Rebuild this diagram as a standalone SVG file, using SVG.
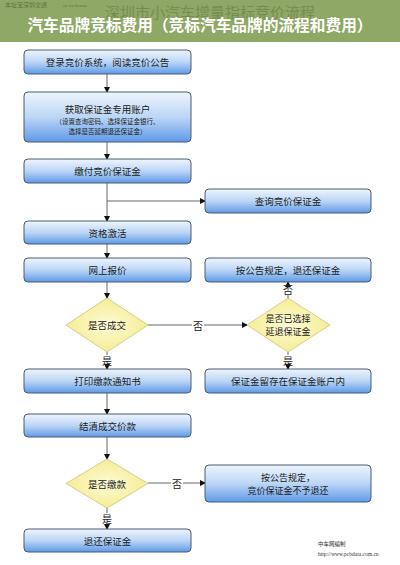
<svg xmlns="http://www.w3.org/2000/svg" width="400" height="565" viewBox="0 0 400 565">
<defs>
<linearGradient id="boxg" x1="0" y1="0" x2="0" y2="1">
<stop offset="0" stop-color="#eef5fd"/>
<stop offset="0.5" stop-color="#bcd6f6"/>
<stop offset="1" stop-color="#5e9ae8"/>
</linearGradient>
<radialGradient id="diag" cx="0.5" cy="0.5" r="0.6">
<stop offset="0" stop-color="#fdfbd8"/>
<stop offset="1" stop-color="#f3ea86"/>
</radialGradient>
<marker id="arr" markerWidth="6" markerHeight="6" refX="5" refY="3" orient="auto" markerUnits="userSpaceOnUse">
<path d="M0,0 L6,3 L0,6 Z" fill="#111"/>
</marker>
</defs>
<style>
.box{fill:url(#boxg);stroke:#4b5a70;stroke-width:1}
.dia{fill:url(#diag);stroke:#d6cf8c;stroke-width:1}
.t{font-family:"Noto Sans CJK SC","Liberation Sans",sans-serif;font-size:9.5px;fill:#222;text-anchor:middle;dominant-baseline:central}
.t2{font-family:"Noto Sans CJK SC","Liberation Sans",sans-serif;font-size:9px;fill:#222;text-anchor:middle;dominant-baseline:central}
.s{font-family:"Noto Sans CJK SC","Liberation Sans",sans-serif;font-size:6.5px;fill:#222;text-anchor:middle;dominant-baseline:central}
.lb{font-family:"Noto Sans CJK SC","Liberation Sans",sans-serif;font-size:10px;fill:#222;text-anchor:middle;dominant-baseline:central}
.ln{stroke:#666;stroke-width:1;fill:none}
.la{stroke:#666;stroke-width:1;fill:none;marker-end:url(#arr)}
</style>
<rect width="400" height="565" fill="#ffffff"/>
<g id="header">
<rect x="0" y="0" width="400" height="42" fill="#8ea865"/>
<text x="5" y="7" font-family="Noto Sans CJK SC,sans-serif" font-size="6px" fill="#5d7540">本址宝深圳交通</text>
<text x="63" y="7" font-family="Liberation Serif,serif" font-size="5px" fill="#5d7540">zz.xx.henan</text>
<text x="210" y="11" font-family="Noto Sans CJK SC,sans-serif" font-size="15px" fill="#758e4f" text-anchor="middle" dominant-baseline="central">深圳市小汽车增量指标竞价流程</text>
<text x="200" y="24" font-family="Noto Sans CJK SC,sans-serif" font-weight="bold" font-size="15.7px" fill="#ffffff" text-anchor="middle" dominant-baseline="central">汽车品牌竞标费用（竞标汽车品牌的流程和费用）</text>
</g>
<g id="connectors">
<line class="la" x1="107" y1="74" x2="107" y2="92"/>
<line class="la" x1="107" y1="142" x2="107" y2="159"/>
<line class="la" x1="107" y1="183" x2="107" y2="221"/>
<line class="la" x1="107" y1="201" x2="205" y2="201"/>
<line class="la" x1="107" y1="243" x2="107" y2="258"/>
<line class="la" x1="107" y1="282" x2="107" y2="298"/>
<line class="ln" x1="107" y1="352" x2="107" y2="355"/>
<line class="la" x1="107" y1="365" x2="107" y2="369"/>
<line class="la" x1="107" y1="393" x2="107" y2="414"/>
<line class="la" x1="107" y1="437" x2="107" y2="459"/>
<line class="ln" x1="107" y1="508" x2="107" y2="513"/>
<line class="la" x1="107" y1="523" x2="107" y2="529"/>
<line class="ln" x1="148" y1="325" x2="192" y2="325"/>
<line class="la" x1="204" y1="325" x2="247" y2="325"/>
<line class="ln" x1="148" y1="483" x2="171" y2="483"/>
<line class="la" x1="183" y1="483" x2="205" y2="483"/>
<line class="ln" x1="288" y1="298" x2="288" y2="295"/>
<line class="la" x1="288" y1="284" x2="288" y2="282"/>
<line class="ln" x1="288" y1="352" x2="288" y2="355"/>
<line class="la" x1="288" y1="365" x2="288" y2="369"/>
<text class="lb" x="198" y="325">否</text>
<text class="lb" x="177" y="483">否</text>
<text class="lb" x="288" y="289">否</text>
<text class="lb" x="107" y="360">是</text>
<text class="lb" x="288" y="360">是</text>
<text class="lb" x="107" y="518">是</text>
</g>
<g id="n1"><rect class="box" x="24" y="50" width="167" height="24" rx="4"/><text class="t" x="107.5" y="62">登录竞价系统，阅读竞价公告</text></g>
<g id="n2"><rect class="box" x="24" y="92" width="167" height="50" rx="4"/>
<text class="t" x="107.5" y="109">获取保证金专用账户</text>
<text class="s" x="107.5" y="121">（设置查询密码、选择保证金银行、</text>
<text class="s" x="107.5" y="131">选择是否延期退还保证金）</text></g>
<g id="n3"><rect class="box" x="24" y="159" width="167" height="24" rx="4"/><text class="t" x="107.5" y="171">缴付竞价保证金</text></g>
<g id="n4"><rect class="box" x="205" y="189" width="166" height="24" rx="4"/><text class="t" x="288" y="201">查询竞价保证金</text></g>
<g id="n5"><rect class="box" x="24" y="221" width="167" height="23" rx="4"/><text class="t" x="107.5" y="232.5">资格激活</text></g>
<g id="n6"><rect class="box" x="24" y="258" width="167" height="24" rx="4"/><text class="t" x="107.5" y="270">网上报价</text></g>
<g id="n7"><rect class="box" x="205" y="258" width="166" height="24" rx="4"/><text class="t" x="288" y="270">按公告规定，退还保证金</text></g>
<g id="d1"><polygon class="dia" points="107,298 148,325 107,352 66,325"/><text class="t" x="107" y="325">是否成交</text></g>
<g id="d2"><polygon class="dia" points="288,298 330,325 288,352 247,325"/><text class="t2" x="288" y="318.5">是否已选择</text><text class="t2" x="288" y="331.5">延退保证金</text></g>
<g id="n8"><rect class="box" x="24" y="369" width="167" height="24" rx="4"/><text class="t" x="107.5" y="381">打印缴款通知书</text></g>
<g id="n9"><rect class="box" x="205" y="369" width="166" height="24" rx="4"/><text class="t" x="288" y="381">保证金留存在保证金账户内</text></g>
<g id="n10"><rect class="box" x="24" y="414" width="167" height="23" rx="4"/><text class="t" x="107.5" y="425.5">结清成交价款</text></g>
<g id="d3"><polygon class="dia" points="107,459 148,483.5 107,508 66,483.5"/><text class="t" x="107" y="483.5">是否缴款</text></g>
<g id="n11"><rect class="box" x="205" y="465" width="166" height="37" rx="4"/><text class="t2" x="288" y="477">按公告规定，</text><text class="t2" x="288" y="490.5">竞价保证金不予退还</text></g>
<g id="n12"><rect class="box" x="24" y="529" width="167" height="23" rx="4"/><text class="t" x="107.5" y="540.5">退还保证金</text></g>
<g id="footer">
<text x="318" y="546" font-family="Noto Sans CJK SC,sans-serif" font-size="5.5px" fill="#333">中车网编制</text>
<text x="318" y="556" font-family="Liberation Serif,serif" font-size="5.5px" fill="#333">http://www.pcbdata.com.cn</text>
</g>
</svg>
